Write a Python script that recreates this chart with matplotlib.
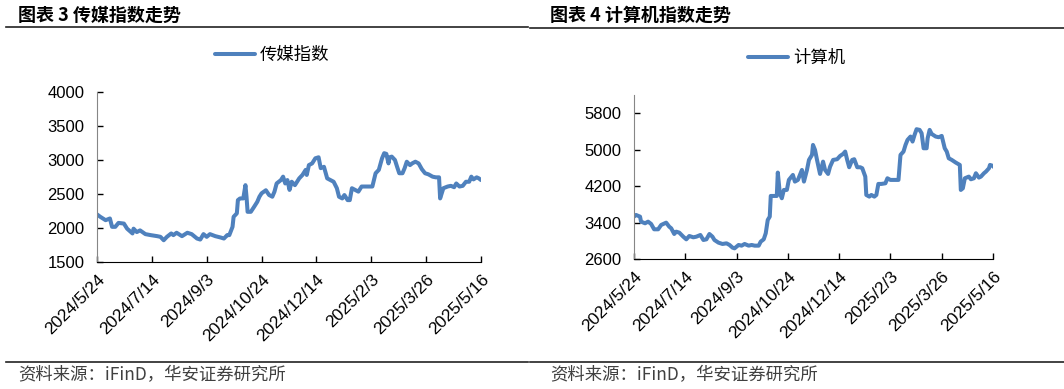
import matplotlib
matplotlib.use("Agg")
import matplotlib.pyplot as plt
import pandas as pd
from matplotlib.lines import Line2D

plt.rcParams['font.family'] = ['Liberation Sans', 'Noto Sans CJK SC', 'DejaVu Sans']

start = pd.Timestamp('2024-05-24')
tick_labels = ['2024/5/24', '2024/7/14', '2024/9/3', '2024/10/24',
               '2024/12/14', '2025/2/3', '2025/3/26', '2025/5/16']

# 传媒指数: days after 2024/5/24 and index level
media_day = [0, 3, 8, 12, 14, 17, 20, 25, 28, 33, 34, 37, 40, 45, 50, 56, 59, 62, 65, 69,
             71, 74, 79, 84, 88, 93, 96, 99, 102, 105, 110, 115, 118, 121, 123, 126, 127, 130, 131, 133,
             136, 138, 139, 140, 143, 146, 149, 151, 153, 157, 160, 163, 165, 167, 171, 173, 175, 177, 179, 181,
             184, 188, 191, 194, 195, 197, 200, 203, 206, 208, 211, 214, 217, 220, 223, 225, 228, 230, 233, 235,
             237, 240, 243, 246, 251, 256, 259, 262, 265, 267, 269, 271, 272, 274, 277, 279, 281, 284, 286, 288,
             291, 293, 296, 299, 302, 305, 308, 312, 315, 318, 319, 320, 322, 326, 329, 332, 334, 337, 340, 343,
             346, 348, 350, 353, 355, 357]
media_val = [2200, 2165, 2115, 2140, 2017, 2017, 2075, 2065, 1990, 1920, 1990, 1940, 1965, 1910, 1895, 1880, 1870, 1820, 1870, 1920,
             1895, 1930, 1880, 1930, 1910, 1845, 1830, 1910, 1870, 1910, 1880, 1860, 1845, 1895, 1895, 2017, 2165, 2215, 2410, 2435,
             2435, 2630, 2460, 2238, 2238, 2310, 2385, 2460, 2510, 2555, 2485, 2460, 2535, 2655, 2705, 2755, 2655, 2705, 2560, 2680,
             2630, 2730, 2780, 2855, 2780, 2925, 2950, 3025, 3040, 2880, 2900, 2730, 2705, 2680, 2585, 2460, 2435, 2485, 2410, 2410,
             2585, 2560, 2535, 2610, 2610, 2610, 2805, 2855, 3025, 3100, 3090, 2950, 3040, 3050, 3000, 2900, 2805, 2805, 2880, 2975,
             2925, 2950, 2975, 2950, 2865, 2805, 2790, 2755, 2745, 2745, 2435, 2485, 2585, 2610, 2620, 2600, 2655, 2610, 2620, 2680,
             2680, 2755, 2715, 2745, 2730, 2705]

# 计算机指数
comp_day = [0, 2, 6, 7, 11, 14, 17, 20, 24, 27, 32, 35, 37, 40, 42, 45, 49, 52, 55, 59,
            62, 66, 69, 72, 75, 78, 80, 84, 88, 92, 95, 98, 100, 104, 107, 110, 114, 117, 120, 124,
            126, 129, 131, 133, 135, 136, 138, 142, 143, 145, 147, 149, 152, 154, 158, 160, 163, 167, 169, 172,
            174, 177, 178, 180, 182, 185, 188, 190, 193, 195, 198, 202, 205, 208, 210, 212, 214, 217, 219, 222,
            225, 227, 230, 231, 234, 236, 239, 241, 243, 246, 250, 252, 255, 258, 263, 265, 268, 270, 272, 275,
            277, 279, 281, 284, 286, 288, 291, 292, 294, 296, 300, 303, 306, 309, 311, 313, 316, 320, 324, 325,
            327, 329, 333, 335, 338, 340, 343, 345, 348, 350, 353, 354, 357, 358]
comp_val = [3530, 3567, 3530, 3420, 3384, 3420, 3370, 3252, 3252, 3347, 3398, 3310, 3274, 3149, 3200, 3179, 3090, 3032, 3105, 3076,
            3090, 3127, 3017, 3032, 3149, 3090, 3017, 2959, 2930, 2944, 2908, 2849, 2834, 2908, 2893, 2930, 2893, 2908, 2893, 2893,
            2981, 3032, 3164, 3457, 3530, 3984, 3984, 3984, 4497, 4043, 3933, 4116, 4116, 4336, 4445, 4299, 4336, 4555, 4299, 4555,
            4775, 4885, 5104, 4995, 4775, 4467, 4738, 4555, 4467, 4628, 4775, 4790, 4863, 4907, 4958, 4775, 4614, 4775, 4790, 4614,
            4614, 4592, 4409, 4006, 3969, 4006, 3969, 4006, 4248, 4248, 4262, 4372, 4336, 4336, 4336, 4885, 4958, 5104, 5214, 5288,
            5178, 5324, 5449, 5434, 5361, 5031, 5031, 5251, 5434, 5346, 5288, 5273, 5302, 5031, 4958, 4811, 4775, 4716, 4665, 4116,
            4152, 4372, 4409, 4350, 4372, 4482, 4387, 4409, 4482, 4519, 4592, 4665, 4643, 4614]

color = '#4F81BD'
fig = plt.figure(figsize=(10.64, 3.89), dpi=100)


def panel(rect, days, vals, ylim, yticks, label, legend_xy):
    ax = fig.add_axes(rect)
    dates = [start + pd.Timedelta(days=d) for d in days]
    ax.plot(dates, vals, color=color, lw=2.9, label=label, solid_joinstyle='round',
            solid_capstyle='round')
    ticks = [pd.Timestamp(t) for t in
             ['2024-05-24', '2024-07-14', '2024-09-03', '2024-10-24',
              '2024-12-14', '2025-02-03', '2025-03-26', '2025-05-16']]
    ax.set_xlim(ticks[0], ticks[-1])
    ax.set_xticks(ticks)
    ax.set_xticklabels(tick_labels, rotation=45, ha='right', rotation_mode='anchor', fontsize=12.5)
    ax.set_ylim(*ylim)
    ax.set_yticks(yticks)
    ax.set_yticklabels([str(v) for v in yticks], fontsize=12)
    ax.spines['top'].set_visible(False)
    ax.spines['right'].set_visible(False)
    ax.spines['left'].set_color('#868686')
    ax.spines['bottom'].set_color('#000000')
    ax.tick_params(direction='in', length=4, width=1, pad=9)
    ax.tick_params(axis='x', pad=7)
    ax.legend(loc='center', bbox_to_anchor=legend_xy, bbox_transform=fig.transFigure,
              frameon=False, handlelength=2.3, handletextpad=0.3,
              prop={'family': ['Noto Sans CJK SC'], 'size': 12.5})
    return ax


panel([97 / 1064, 1 - 262 / 389, 384 / 1064, 170 / 389], media_day, media_val,
      (1500, 4000), [1500, 2000, 2500, 3000, 3500, 4000], '传媒指数', (272 / 1064, 1 - 55 / 389))
panel([634 / 1064, 1 - 259 / 389, 359 / 1064, 164 / 389], comp_day, comp_val,
      (2600, 6200), [2600, 3400, 4200, 5000, 5800], '计算机', (797 / 1064, 1 - 58 / 389))

# titles and rules
for x, t in [(18, '图表 3 传媒指数走势'), (550, '图表 4 计算机指数走势')]:
    fig.text(x / 1064, 1 - 15 / 389, t, fontsize=13, fontweight='bold', va='center',
             family=['Noto Sans CJK SC'])
    fig.text(x / 1064, 1 - 375 / 389, '资料来源：iFinD，华安证券研究所', fontsize=12.5,
             va='center', color='#404040', family=['Noto Sans CJK SC'])

for (x0, x1, y) in [(6, 528, 27), (530, 1064, 28), (6, 528, 362), (530, 1064, 362)]:
    fig.add_artist(Line2D([x0 / 1064, x1 / 1064], [1 - y / 389, 1 - y / 389],
                          transform=fig.transFigure, color='#222222', lw=1.2))

fig.savefig('out.png', dpi=100)
